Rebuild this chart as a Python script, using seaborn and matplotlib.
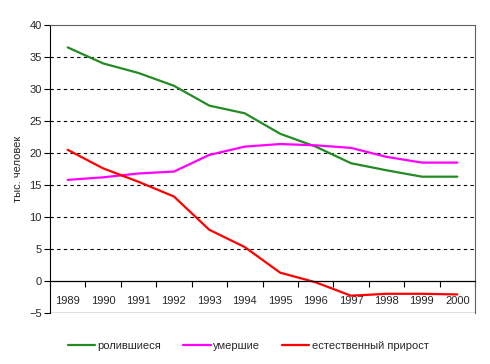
import matplotlib
matplotlib.use("Agg")
import matplotlib.pyplot as plt
import seaborn as sb
import pandas as pd
import numpy as np

years = [1989, 1990, 1991, 1992, 1993, 1994, 1995, 1996, 1997, 1998, 1999, 2000]
born = [36.5, 34.0, 32.5, 30.5, 27.4, 26.2, 23.0, 21.0, 18.4, 17.3, 16.3, 16.3]
died = [15.8, 16.2, 16.8, 17.1, 19.7, 21.0, 21.4, 21.2, 20.8, 19.4, 18.5, 18.5]
growth = [20.5, 17.6, 15.5, 13.2, 8.0, 5.3, 1.3, -0.2, -2.3, -2.0, -2.0, -2.1]
names = ["ролившиеся", "умершие", "естественный прирост"]
colors = ["#238b23", "#ff00ff", "#ff0000"]

sb.set_style("white")
plt.rcParams["font.family"] = ["Liberation Sans", "DejaVu Sans"]
plt.rcParams["font.size"] = 8

df = pd.DataFrame({"pos": np.arange(len(years)), names[0]: born, names[1]: died, names[2]: growth})
df = df.melt(id_vars="pos", var_name="series", value_name="value")

fig = plt.figure(figsize=(4.9, 3.64), dpi=100)
ax = fig.add_axes([50 / 490, 1 - 313 / 364, 425 / 490, 288 / 364])

sb.lineplot(data=df, x="pos", y="value", hue="series", palette=colors,
            linewidth=1.6, ax=ax, legend=True)

ax.set_xlim(-0.5, len(years) - 0.5)
ax.set_ylim(-5, 40)
ax.set_yticks(np.arange(-5, 41, 5))
for v in range(5, 40, 5):
    ax.axhline(v, color="black", linestyle=(0, (3, 3)), linewidth=0.8, zorder=0)

# category axis crossing at zero
ax.spines["bottom"].set_position(("data", 0))
ax.spines["bottom"].set_color("black")
ax.spines["bottom"].set_linewidth(0.9)
ax.axhline(-5, color="black", linewidth=0.9)
ax.spines["left"].set_color("black")
ax.spines["top"].set_color("#606060")
ax.spines["right"].set_color("#606060")
ax.set_xticks(np.arange(-0.5, len(years), 1.0))
ax.set_xticklabels([])
ax.set_xticks(np.arange(len(years)), minor=True)
ax.set_xticklabels([str(y) for y in years], minor=True)
ax.tick_params(axis="x", which="major", direction="out", length=4, color="black", bottom=True)
ax.tick_params(axis="x", which="minor", length=0, pad=11, labelsize=8)
ax.tick_params(axis="y", direction="out", length=4, color="black", left=True, labelsize=8, pad=2)
ax.set_xlabel("")
ax.set_ylabel("тыс. человек", fontsize=8, labelpad=4)

handles, labels = ax.get_legend_handles_labels()
ax.get_legend().remove()
fig.legend(handles, labels, loc="center left", bbox_to_anchor=(68 / 490, 1 - 346 / 364), ncol=3,
           frameon=False, borderpad=0, borderaxespad=0,
           handlelength=2.45, handletextpad=0.2, columnspacing=2.0, fontsize=8)

fig.savefig("out.png", dpi=100)
